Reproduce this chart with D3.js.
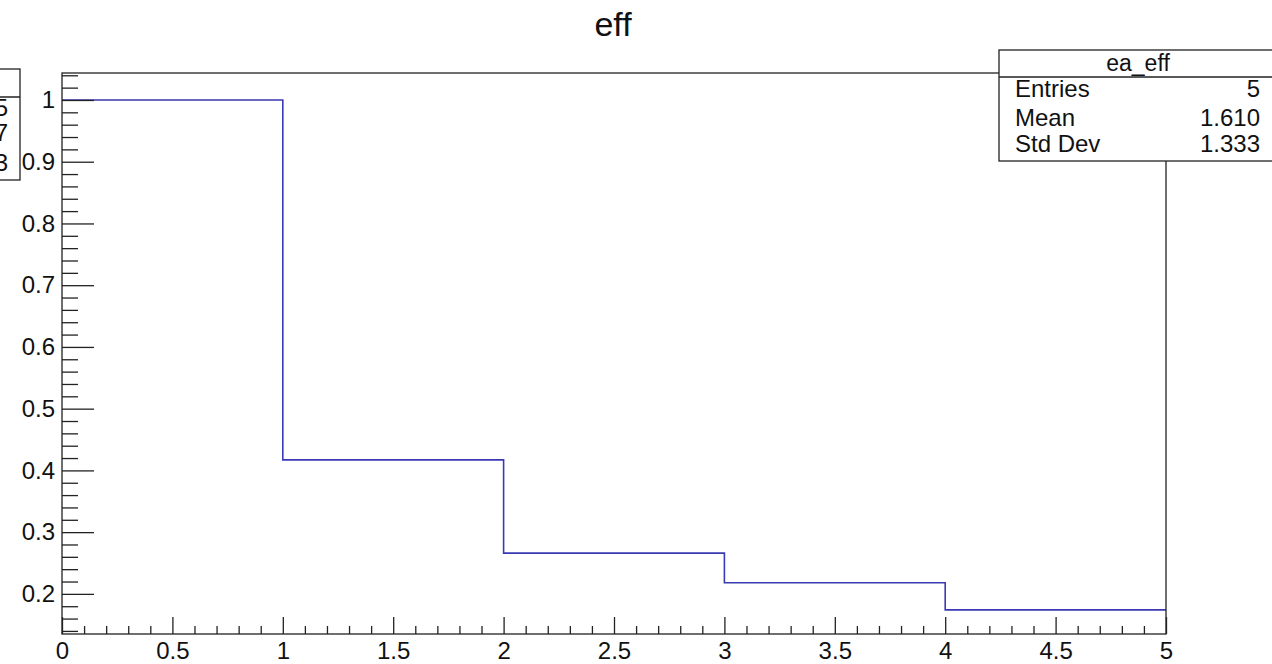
<!DOCTYPE html>
<html>
<head>
<meta charset="utf-8">
<script src="https://cdn.jsdelivr.net/npm/d3@7"></script>
<style>
  body { margin: 0; background: #fff; }
  svg { display: block; font-family: "Liberation Sans", Arial, sans-serif; }
</style>
</head>
<body>
<svg id="chart" width="1272" height="664"></svg>
<script>
// histogram "ea_eff": bin edges and efficiency per bin
const binEdges = [0, 1, 2, 3, 4, 5];
const effValues = [1.0, 0.417, 0.266, 0.218, 0.174];

// axis ticks
const xMajor = [0, 0.5, 1, 1.5, 2, 2.5, 3, 3.5, 4, 4.5, 5];
const yMajor = [0.2, 0.3, 0.4, 0.5, 0.6, 0.7, 0.8, 0.9, 1.0];
const xDomain = [0, 5];
const yDomain = [0.135, 1.0437];

// stats box
const statsTitle = "ea_eff";
const statsNames = ["Entries", "Mean", "Std Dev"];
const statsValues = ["5", "1.610", "1.333"];
// the other stats box, cut off at the left edge
const hiddenValues = ["5", "7", "3"];

const svg = d3.select("#chart");
const frame = { left: 62, right: 1166, top: 73, bottom: 634 };

const x = d3.scaleLinear().domain(xDomain).range([frame.left, frame.right]);
const y = d3.scaleLinear().domain(yDomain).range([frame.bottom, frame.top]);

// minor ticks every 0.1 on x, every 0.02 on y
const xMinor = d3.range(0, 51).map(i => i / 10).filter(v => !xMajor.some(m => Math.abs(m - v) < 1e-9));
const yMinor = d3.range(7, 53).map(i => i * 0.02).filter(v => v <= yDomain[1] && !yMajor.some(m => Math.abs(m - v) < 1e-9));

const fmt = d3.format("~g");

// histogram outline
const pts = binEdges.slice(0, -1).map((e, i) => [e, effValues[i]]);
pts.push([binEdges[binEdges.length - 1], effValues[effValues.length - 1]]);
const line = d3.line().x(d => x(d[0])).y(d => y(d[1])).curve(d3.curveStepAfter);

svg.append("path")
    .datum(pts)
    .attr("d", line)
    .attr("fill", "none")
    .attr("stroke", "#3a3ab4")
    .attr("stroke-width", 1.6);

// axes (ticks point inward)
svg.append("g").attr("transform", `translate(0,${frame.bottom})`)
    .call(d3.axisBottom(x).tickValues(xMajor).tickSize(-17).tickPadding(8).tickFormat(fmt));
svg.append("g").attr("transform", `translate(0,${frame.bottom})`)
    .call(d3.axisBottom(x).tickValues(xMinor).tickSize(-8).tickFormat(""));

svg.append("g").attr("transform", `translate(${frame.left},0)`)
    .call(d3.axisLeft(y).tickValues(yMajor).tickSize(-32).tickPadding(7).tickFormat(fmt));
svg.append("g").attr("transform", `translate(${frame.left},0)`)
    .call(d3.axisLeft(y).tickValues(yMinor).tickSize(-16).tickFormat(""));

svg.selectAll(".domain").remove();
svg.selectAll(".tick line").attr("stroke", "#222").attr("stroke-width", 1.3);
svg.selectAll(".tick text").attr("fill", "#111").style("font-size", "24px")
    .style("font-family", "'Liberation Sans', Arial, sans-serif");

// frame
svg.append("rect")
    .attr("x", frame.left).attr("y", frame.top)
    .attr("width", frame.right - frame.left).attr("height", frame.bottom - frame.top)
    .attr("fill", "none").attr("stroke", "#222").attr("stroke-width", 1.3);

// title
svg.append("text")
    .attr("x", 613).attr("y", 36)
    .attr("text-anchor", "middle")
    .style("font-size", "34px")
    .attr("fill", "#111")
    .text("eff");

// stats box
const sb = { x: 999, y: 50, w: 278, h: 111, head: 27 };
const stats = svg.append("g");
stats.append("rect")
    .attr("x", sb.x).attr("y", sb.y).attr("width", sb.w).attr("height", sb.h)
    .attr("fill", "#fff").attr("stroke", "#222").attr("stroke-width", 1.3);
stats.append("line")
    .attr("x1", sb.x).attr("x2", sb.x + sb.w)
    .attr("y1", sb.y + sb.head).attr("y2", sb.y + sb.head)
    .attr("stroke", "#222").attr("stroke-width", 1.3);
stats.append("text")
    .attr("x", sb.x + sb.w / 2).attr("y", 71)
    .attr("text-anchor", "middle").style("font-size", "23px").attr("fill", "#111")
    .text(statsTitle);
const rowY = [97, 126, 152];
statsNames.forEach((n, i) => {
    stats.append("text").attr("x", 1015).attr("y", rowY[i])
        .style("font-size", "24px").attr("fill", "#111").text(n);
    stats.append("text").attr("x", 1260).attr("y", rowY[i])
        .attr("text-anchor", "end").style("font-size", "24px").attr("fill", "#111").text(statsValues[i]);
});

// partial box on the left edge
const lb = svg.append("g");
lb.append("rect")
    .attr("x", -200).attr("y", 69).attr("width", 220).attr("height", 111)
    .attr("fill", "#fff").attr("stroke", "#222").attr("stroke-width", 1.3);
lb.append("line")
    .attr("x1", -200).attr("x2", 20).attr("y1", 97).attr("y2", 97)
    .attr("stroke", "#222").attr("stroke-width", 1.3);
const leftY = [116, 141, 171];
hiddenValues.forEach((v, i) => {
    lb.append("text").attr("x", 8).attr("y", leftY[i])
        .attr("text-anchor", "end").style("font-size", "24px").attr("fill", "#111").text(v);
});
</script>
</body>
</html>
